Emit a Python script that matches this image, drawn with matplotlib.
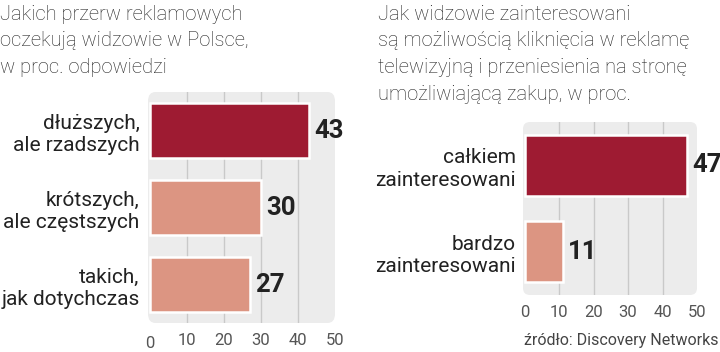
import matplotlib
matplotlib.use('Agg')
import matplotlib.pyplot as plt
from matplotlib.patches import FancyBboxPatch
from matplotlib import transforms

plt.rcParams['font.family'] = ['Roboto', 'DejaVu Sans']

# dane
left_title = 'Jakich przerw reklamowych\noczekują widzowie w Polsce,\nw proc. odpowiedzi'
left_cats = ['dłuższych,\nale rzadszych', 'krótszych,\nale częstszych', 'takich,\njak dotychczas']
left_vals = [43, 30, 27]

right_title = ('Jak widzowie zainteresowani\nsą możliwością kliknięcia w reklamę\n'
               'telewizyjną i przeniesienia na stronę\numożliwiającą zakup, w proc.')
right_cats = ['całkiem\nzainteresowani', 'bardzo\nzainteresowani']
right_vals = [47, 11]

ticks = [0, 10, 20, 30, 40, 50]
source = 'źródło: Discovery Networks'

DARK = '#9e1b32'
LIGHT = '#dc9582'
BG = '#ececec'
GRID = '#c9c9c9'
TXT = '#222222'

W, H = 720, 352
fig = plt.figure(figsize=(W / 100, H / 100), dpi=100)


def px_axes(x0, y0, x1, y1):
    # pozycja osi w pikselach (od gory)
    return fig.add_axes([x0 / W, 1 - y1 / H, (x1 - x0) / W, (y1 - y0) / H])


def panel(ax, cats, vals, pad_lab, ylim):
    ax.set_facecolor('none')
    for s in ax.spines.values():
        s.set_visible(False)
    bg = FancyBboxPatch((0, 0), 1, 1, boxstyle='round,pad=0,rounding_size=0.04',
                        transform=ax.transAxes, facecolor=BG, edgecolor='none',
                        zorder=0, clip_on=False)
    ax.add_patch(bg)
    for t in ticks[1:-1]:
        ax.axvline(t, color=GRID, lw=1, zorder=1)
    pos = list(range(len(vals)))
    colors = [DARK] + [LIGHT] * (len(vals) - 1)
    ax.barh(pos, vals, height=0.71, color=colors, edgecolor='white', linewidth=1.8, zorder=2)
    ax.set_xlim(-0.5, 50)
    ax.set_ylim(*ylim)
    ax.set_yticks(pos)
    ax.set_yticklabels(cats, fontsize=15, color=TXT, linespacing=1.22)
    ax.tick_params(axis='y', length=0, pad=pad_lab)
    ax.set_xticks(ticks)
    ax.tick_params(axis='x', length=0, pad=7, labelsize=12, labelcolor='#555555')
    for p, v in zip(pos, vals):
        ax.text(v + 1.5, p, str(v), ha='left', va='center', fontsize=18.5,
                fontweight='bold', color=TXT, zorder=3)


# lewy wykres
ax1 = px_axes(148, 92, 335, 323)
panel(ax1, left_cats, left_vals, 6, (2.5, -0.5))
ax1.set_xticklabels([''] + [str(t) for t in ticks[1:]])
ax1.text(0, -0.055, str(ticks[0]), transform=transforms.blended_transform_factory(ax1.transData, ax1.transAxes),
         ha='center', va='top', fontsize=12, color='#555555')

# prawy wykres
ax2 = px_axes(523, 122, 697, 295)
panel(ax2, right_cats, right_vals, 5, (1.5, -0.5))

fig.text(0 / W, 1 - 5 / H, left_title, ha='left', va='top', fontsize=14.5,
         color=TXT, linespacing=1.5, fontweight='light')
fig.text(378 / W, 1 - 5 / H, right_title, ha='left', va='top', fontsize=14.5,
         color=TXT, linespacing=1.5, fontweight='light')
fig.text(718 / W, 1 - 341 / H, source, ha='right', va='center', fontsize=11.5, color='#444444')

fig.savefig('out.png', dpi=100)
